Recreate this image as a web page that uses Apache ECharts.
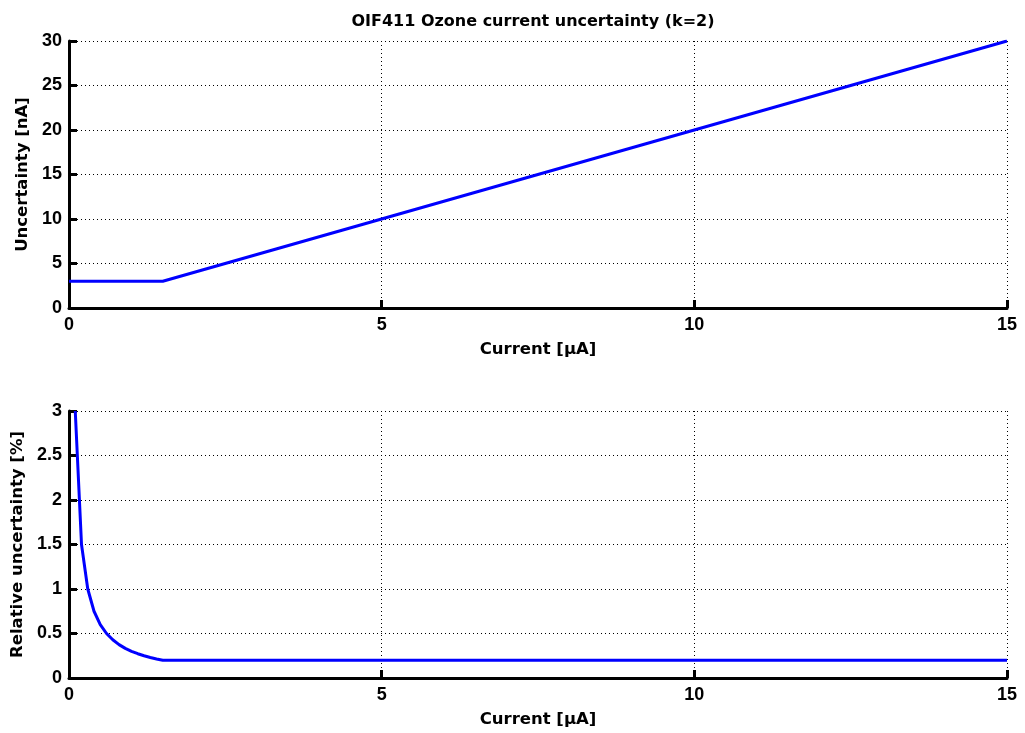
<!DOCTYPE html>
<html>
<head>
<meta charset="utf-8">
<script src="https://cdn.jsdelivr.net/npm/echarts@6/dist/echarts.min.js"></script>
<style>
html,body{margin:0;padding:0;background:#fff;}
#chart{width:1025px;height:733px;}
</style>
</head>
<body>
<div id="chart"></div>
<script>
// Current in µA and absolute uncertainty in nA (upper panel)
const currentAbs = [0, 1.5, 15];
const uncertaintyNA = [3, 3, 30];

// Current in µA and relative uncertainty in % (lower panel)
const currentRel = [0.1, 0.2, 0.3, 0.4, 0.5, 0.6, 0.7, 0.8, 0.9, 1.0, 1.1, 1.2, 1.3, 1.4, 1.5, 15];
const relUncertainty = [3.0, 1.5, 1.0, 0.75, 0.6, 0.5, 0.43, 0.375, 0.333, 0.3, 0.273, 0.25, 0.231, 0.214, 0.2, 0.2];

const titleText = 'OIF411 Ozone current uncertainty (k=2)';
const xName = 'Current [\u00b5A]';
const yNameTop = 'Uncertainty [nA]';
const yNameBottom = 'Relative uncertainty [%]';

const tickFont = 'Liberation Sans, Arial, sans-serif';
const nameFont = 'DejaVu Sans, sans-serif';
const labelStyle = {color: '#000', fontSize: 18, fontWeight: 'bold', fontFamily: tickFont};
const nameStyle = {color: '#000', fontSize: 16.5, fontWeight: 'bold', fontFamily: nameFont};
const gridLine = {show: true, lineStyle: {color: '#000', width: 1, type: [1, 3]}};
const axisLine = {show: true, onZero: false, lineStyle: {color: '#000', width: 3}};
const axisTick = {show: true, inside: true, length: 8, lineStyle: {color: '#000', width: 3}};

function xAxis(gridIndex) {
  return {
    type: 'value', gridIndex, min: 0, max: 15, interval: 5,
    name: xName, nameLocation: 'middle', nameGap: 33, nameTextStyle: nameStyle,
    axisLine, axisTick, splitLine: gridLine,
    axisLabel: Object.assign({margin: 8}, labelStyle)
  };
}
function yAxis(gridIndex, max, interval, name, gap) {
  return {
    type: 'value', gridIndex, min: 0, max, interval,
    name, nameLocation: 'middle', nameGap: gap, nameTextStyle: nameStyle,
    axisLine, axisTick, splitLine: gridLine,
    axisLabel: Object.assign({margin: 7}, labelStyle)
  };
}

const chart = echarts.init(document.getElementById('chart'), null, {renderer: 'canvas'});
chart.setOption({
  animation: false,
  backgroundColor: '#fff',
  title: {
    text: titleText, left: 528, textAlign: 'center', top: 9,
    textStyle: {color: '#000', fontSize: 16, fontWeight: 'bold', fontFamily: nameFont}
  },
  grid: [
    {left: 69, right: 18, top: 41, height: 267},
    {left: 69, right: 18, top: 411, height: 267}
  ],
  xAxis: [xAxis(0), xAxis(1)],
  yAxis: [
    yAxis(0, 30, 5, yNameTop, 37),
    yAxis(1, 3, 0.5, yNameBottom, 43)
  ],
  series: [
    {
      type: 'line', xAxisIndex: 0, yAxisIndex: 0, showSymbol: false,
      lineStyle: {color: '#0000ff', width: 3},
      data: currentAbs.map((x, i) => [x, uncertaintyNA[i]])
    },
    {
      type: 'line', xAxisIndex: 1, yAxisIndex: 1, showSymbol: false,
      lineStyle: {color: '#0000ff', width: 3},
      data: currentRel.map((x, i) => [x, relUncertainty[i]])
    }
  ]
});
</script>
</body>
</html>
